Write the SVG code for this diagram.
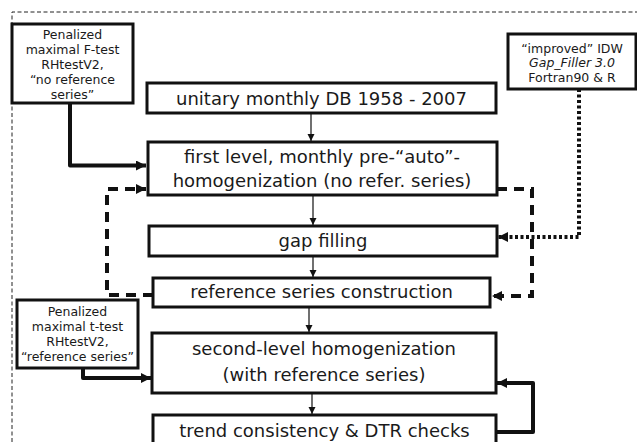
<svg xmlns="http://www.w3.org/2000/svg" width="637" height="442" viewBox="0 0 637 442">
<defs>
<style>
.box{fill:#fff;stroke:#111;stroke-width:3}
.t{font-family:"DejaVu Sans",Verdana,sans-serif;fill:#1a1a1a;text-anchor:middle}
.big{font-size:18px}
.sm{font-size:12.5px}
.thin{fill:none;stroke:#111;stroke-width:1.2}
.thick{fill:none;stroke:#111;stroke-width:4;stroke-linejoin:round}
.dash{fill:none;stroke:#111;stroke-width:4;stroke-dasharray:10 7}
.dot{fill:none;stroke:#111;stroke-width:4;stroke-dasharray:3 2.5}
.frame{fill:none;stroke:#222;stroke-width:1;stroke-dasharray:4 2.5}
</style>
<marker id="ah" markerUnits="userSpaceOnUse" markerWidth="8" markerHeight="8" refX="7" refY="4" orient="auto">
<path d="M0,0.5 L7,4 L0,7.5 Z" fill="#111"/>
</marker>
<marker id="ahb" markerUnits="userSpaceOnUse" markerWidth="12" markerHeight="12" refX="10" refY="5" orient="auto">
<path d="M0,0 L10,5 L0,10 Z" fill="#111"/>
</marker>
</defs>
<rect width="637" height="442" fill="#fff"/>
<path class="frame" d="M12,442 V12 H637"/>
<g id="connectors">
<path class="thin" d="M311,113 V141" marker-end="url(#ah)"/>
<path class="thin" d="M313,195 V225" marker-end="url(#ah)"/>
<path class="thin" d="M313,256 V277" marker-end="url(#ah)"/>
<path class="thin" d="M309,307 V332" marker-end="url(#ah)"/>
<path class="thin" d="M312,393 V414" marker-end="url(#ah)"/>
<path class="thick" d="M70,103 V165.5 H146" marker-end="url(#ahb)"/>
<path class="thick" d="M83,368 V378 H151" marker-end="url(#ahb)"/>
<path class="dash" d="M153,295 H107 V189 H146" marker-end="url(#ahb)"/>
<path class="dash" d="M497,189 H532 V296 H492" marker-end="url(#ahb)"/>
<path class="dot" d="M579,89 V237 H498" marker-end="url(#ahb)"/>
<path class="thick" d="M496,432 H533 V383 H497" marker-end="url(#ahb)"/>
</g>
<g id="ftest">
<rect class="box" x="12" y="24" width="121" height="79"/>
<text class="t sm" x="72.5" y="39">Penalized</text>
<text class="t sm" x="72.5" y="54">maximal F-test</text>
<text class="t sm" x="72.5" y="69">RHtestV2,</text>
<text class="t sm" x="72.5" y="84">“no reference</text>
<text class="t sm" x="72.5" y="99">series”</text>
</g>
<g id="idw">
<rect class="box" x="508" y="34" width="128" height="55"/>
<text class="t sm" x="572" y="52.5">“improved” IDW</text>
<text class="t sm" x="572" y="67" font-style="italic">Gap_Filler 3.0</text>
<text class="t sm" x="572" y="81.5">Fortran90 &amp; R</text>
</g>
<g id="unitary">
<rect class="box" x="147" y="83" width="349" height="30"/>
<text class="t big" x="321.5" y="105">unitary monthly DB 1958 - 2007</text>
</g>
<g id="firstlevel">
<rect class="box" x="148" y="142" width="349" height="53"/>
<text class="t big" x="322" y="163">first level, monthly pre-“auto”-</text>
<text class="t big" x="322" y="187">homogenization (no refer. series)</text>
</g>
<g id="gapfilling">
<rect class="box" x="149" y="226" width="348" height="30"/>
<text class="t big" x="323" y="247">gap filling</text>
</g>
<g id="refseries">
<rect class="box" x="153" y="278" width="337" height="29"/>
<text class="t big" x="321.5" y="298">reference series construction</text>
</g>
<g id="ttest">
<rect class="box" x="17" y="300" width="121" height="68"/>
<text class="t sm" x="77.5" y="316">Penalized</text>
<text class="t sm" x="77.5" y="331">maximal t-test</text>
<text class="t sm" x="77.5" y="346">RHtestV2,</text>
<text class="t sm" x="77.5" y="361">“reference series”</text>
</g>
<g id="secondlevel">
<rect class="box" x="152" y="333" width="344" height="60"/>
<text class="t big" x="324" y="355">second-level homogenization</text>
<text class="t big" x="324" y="381">(with reference series)</text>
</g>
<g id="trend">
<rect class="box" x="153" y="415" width="343" height="40"/>
<text class="t big" x="324.5" y="437">trend consistency &amp; DTR checks</text>
</g>
</svg>
